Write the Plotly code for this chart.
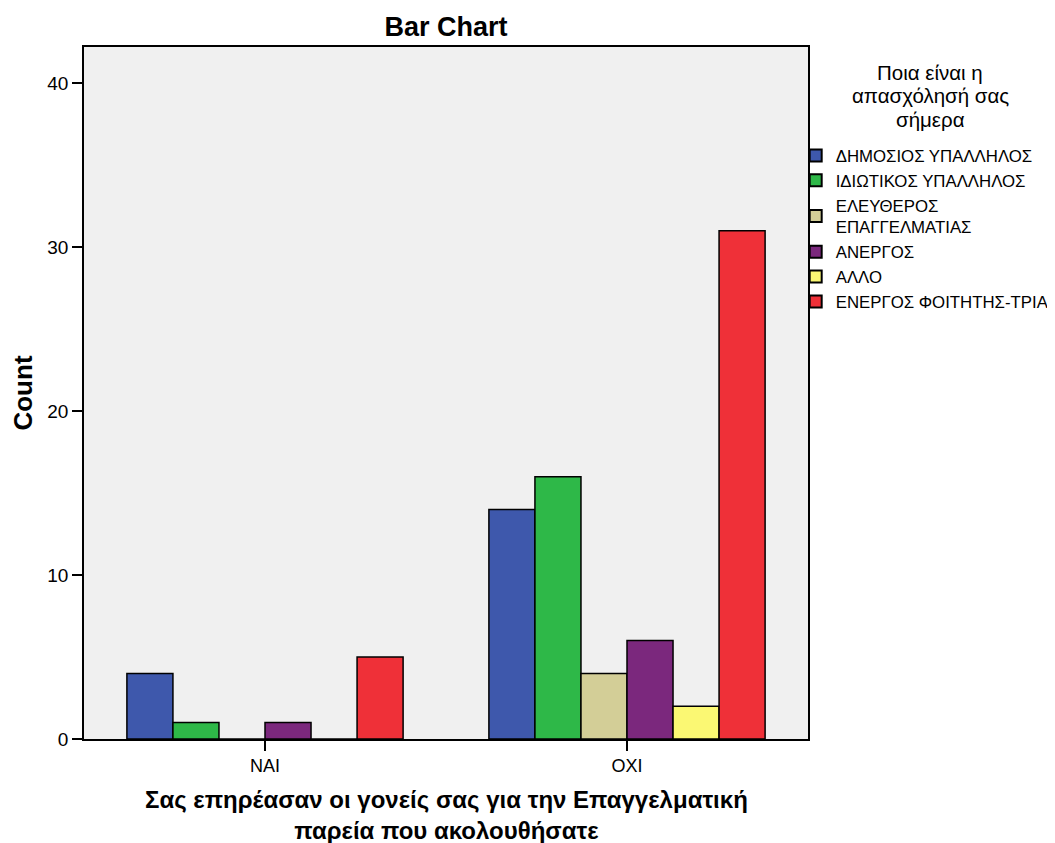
import plotly.graph_objects as go

categories = ["ΝΑΙ", "ΟΧΙ"]
series_names = ["ΔΗΜΟΣΙΟΣ ΥΠΑΛΛΗΛΟΣ", "ΙΔΙΩΤΙΚΟΣ ΥΠΑΛΛΗΛΟΣ", "ΕΛΕΥΘΕΡΟΣ<br>ΕΠΑΓΓΕΛΜΑΤΙΑΣ",
                "ΑΝΕΡΓΟΣ", "ΑΛΛΟ", "ΕΝΕΡΓΟΣ ΦΟΙΤΗΤΗΣ-ΤΡΙΑ"]
dimosios = [4, 14]
idiotikos = [1, 16]
eleftheros = [0, 4]
anergos = [1, 6]
allo = [0, 2]
foititis = [5, 31]
colors = ["#3e58ac", "#2eb848", "#d3ce97", "#7b287d", "#fbf873", "#ef3038"]
y_ticks = [0, 10, 20, 30, 40]
x_title = "Σας επηρέασαν οι γονείς σας για την Επαγγελματική<br>παρεία που ακολουθήσατε"
legend_title_lines = ["Ποια είναι η", "απασχόλησή σας", "σήμερα"]

series_values = [dimosios, idiotikos, eleftheros, anergos, allo, foititis]

font_family = "Liberation Sans, Arial, sans-serif"

fig = go.Figure()
for name, vals, col in zip(series_names, series_values, colors):
    fig.add_trace(go.Bar(x=categories, y=vals, name=name,
                         marker=dict(color=col, line=dict(color="black", width=1.5))))

annotations = [dict(text="<b>" + x_title + "</b>", xref="paper", yref="paper",
                    x=0.5, y=0, xanchor="center", yanchor="top", align="center",
                    yshift=-45, showarrow=False,
                    font=dict(size=24, family=font_family, color="black"))]
for i, line in enumerate(legend_title_lines):
    annotations.append(dict(text=line, xref="paper", yref="paper",
                            x=1.0, y=1, xanchor="center", yanchor="middle",
                            xshift=122, yshift=-25 - 23.5 * i, showarrow=False,
                            font=dict(size=20.5, family=font_family, color="black")))

fig.update_layout(
    width=1047, height=835,
    barmode="group", bargap=0.237, bargroupgap=0,
    paper_bgcolor="white", plot_bgcolor="#f0f0f0",
    font=dict(family=font_family, color="black", size=17),
    margin=dict(l=76, r=247, t=39, b=104, autoexpand=False),
    title=dict(text="<b>Bar Chart</b>", x=0.5, xref="paper", xanchor="center",
               y=1 - 19 / 835, yanchor="middle", font=dict(size=27)),
    xaxis=dict(showline=True, linecolor="black", linewidth=1.5, mirror=True,
               ticks="outside", ticklen=10, tickcolor="black", tickwidth=1.5,
               tickfont=dict(size=18), automargin=False),
    yaxis=dict(range=[0, 42.2], tickvals=y_ticks, showgrid=False, zeroline=False,
               showline=True, linecolor="black", linewidth=1.5, mirror=True,
               ticks="outside", ticklen=10, tickcolor="black", tickwidth=1.5,
               tickfont=dict(size=19), automargin=False,
               title=dict(text="<b>Count</b>", font=dict(size=26), standoff=10)),
    legend=dict(x=0.983, xanchor="left", y=0.8685, yanchor="top",
                bgcolor="rgba(0,0,0,0)", font=dict(size=16.8),
                tracegroupgap=0, itemsizing="constant"),
    annotations=annotations,
    showlegend=True,
)

fig.write_html("out.html")
